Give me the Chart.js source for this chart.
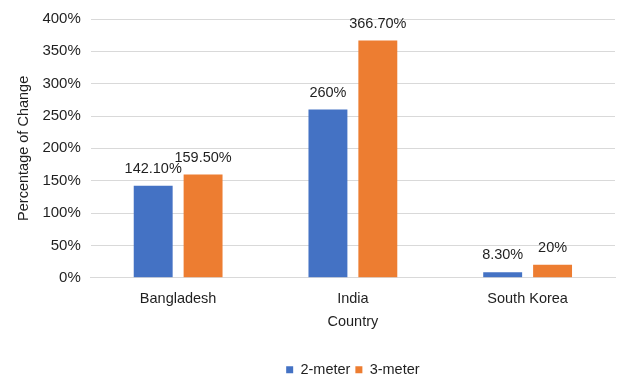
<!DOCTYPE html>
<html>
<head>
<meta charset="utf-8">
<script src="https://cdn.jsdelivr.net/npm/chart.js@4/dist/chart.umd.min.js"></script>
<style>
  html, body { margin: 0; padding: 0; background: #ffffff; }
  #wrap { width: 619px; height: 377px; }
</style>
</head>
<body>
<div id="wrap"><canvas id="c" width="619" height="377"></canvas></div>
<script>
// Percentage change by country for two heights
const countries = ['Bangladesh', 'India', 'South Korea'];
const twoMeter = [142.1, 260, 8.3];
const threeMeter = [159.5, 366.7, 20];
const twoMeterLabels = ['142.10%', '260%', '8.30%'];
const threeMeterLabels = ['159.50%', '366.70%', '20%'];
const yTicks = [0, 50, 100, 150, 200, 250, 300, 350, 400];

const FONT = '"Liberation Sans", Arial, Helvetica, sans-serif';
const TEXT = '#1f1f1f';

// Writes each bar's value label just above it
const valueLabels = {
  id: 'valueLabels',
  afterDatasetsDraw(chart) {
    const ctx = chart.ctx;
    ctx.save();
    ctx.font = '14.5px ' + FONT;
    ctx.fillStyle = TEXT;
    ctx.textAlign = 'center';
    ctx.textBaseline = 'middle';
    chart.data.datasets.forEach((ds, i) => {
      const meta = chart.getDatasetMeta(i);
      meta.data.forEach((bar, j) => {
        ctx.fillText(ds.valueLabels[j], bar.x, bar.y - 17);
      });
    });
    ctx.restore();
  }
};

new Chart(document.getElementById('c'), {
  type: 'bar',
  data: {
    labels: countries,
    datasets: [
      { label: '2-meter', data: twoMeter, valueLabels: twoMeterLabels,
        backgroundColor: '#4472C4', barPercentage: 0.78, categoryPercentage: 0.571 },
      { label: '3-meter', data: threeMeter, valueLabels: threeMeterLabels,
        backgroundColor: '#ED7D31', barPercentage: 0.78, categoryPercentage: 0.571 }
    ]
  },
  options: {
    responsive: false,
    animation: false,
    layout: { padding: { top: -1, right: 4, left: 15, bottom: -10 } },
    plugins: {
      tooltip: { enabled: false },
      legend: {
        position: 'bottom',
        fullSize: false,
        labels: {
          boxWidth: 7, boxHeight: 7, padding: 5,
          color: TEXT, font: { family: FONT, size: 14.5 }
        }
      }
    },
    scales: {
      x: {
        grid: { display: false },
        border: { display: true, color: '#d9d9d9' },
        ticks: { color: TEXT, font: { family: FONT, size: 14.5 }, padding: 5 },
        title: { display: true, text: 'Country', color: TEXT,
                 font: { family: FONT, size: 14.5 }, padding: { top: 0, bottom: 27 } }
      },
      y: {
        min: 0, max: 400,
        afterBuildTicks(axis) { axis.ticks = yTicks.map(v => ({ value: v })); },
        grid: { color: '#d9d9d9', drawTicks: false },
        border: { display: false },
        ticks: { color: TEXT, font: { family: FONT, size: 15 }, padding: 10,
                 callback: v => v + '%' },
        title: { display: true, text: 'Percentage of Change', color: TEXT,
                 font: { family: FONT, size: 14.5 }, padding: { top: 0, bottom: 0 } }
      }
    }
  },
  plugins: [valueLabels]
});
</script>
</body>
</html>
